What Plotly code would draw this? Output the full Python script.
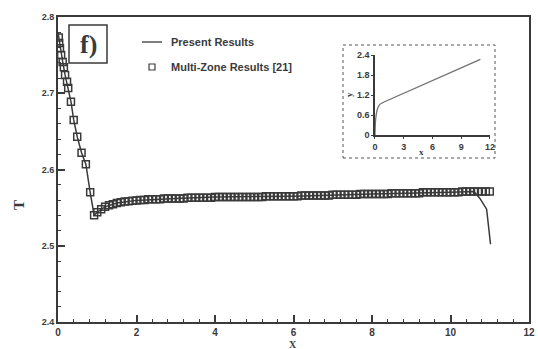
import plotly.graph_objects as go

# Multi-zone reference solution (open squares)
mz_x = [0.02, 0.03, 0.05, 0.08, 0.12, 0.15, 0.18, 0.23, 0.26, 0.33, 0.40, 0.49, 0.60, 0.71, 0.82, 0.92,
        1.0, 1.1, 1.2, 1.3, 1.4, 1.5, 1.6, 1.7, 1.8, 1.9, 2.0,
        2.1, 2.2, 2.3, 2.4, 2.5, 2.6, 2.7, 2.8, 2.9, 3.0,
        3.1, 3.2, 3.3, 3.4, 3.5, 3.6, 3.7, 3.8, 3.9, 4.0,
        4.1, 4.2, 4.3, 4.4, 4.5, 4.6, 4.7, 4.8, 4.9, 5.0,
        5.1, 5.2, 5.3, 5.4, 5.5, 5.6, 5.7, 5.8, 5.9, 6.0,
        6.1, 6.2, 6.3, 6.4, 6.5, 6.6, 6.7, 6.8, 6.9, 7.0,
        7.1, 7.2, 7.3, 7.4, 7.5, 7.6, 7.7, 7.8, 7.9, 8.0,
        8.1, 8.2, 8.3, 8.4, 8.5, 8.6, 8.7, 8.8, 8.9, 9.0,
        9.1, 9.2, 9.3, 9.4, 9.5, 9.6, 9.7, 9.8, 9.9, 10.0,
        10.1, 10.2, 10.3, 10.4, 10.5, 10.6, 10.7, 10.8, 10.9, 11.0]
mz_T = [2.773, 2.766, 2.759, 2.750, 2.741, 2.734, 2.724, 2.715, 2.707, 2.689, 2.665, 2.643, 2.622, 2.607, 2.570, 2.540,
        2.544, 2.548, 2.551, 2.553, 2.5545, 2.556, 2.557, 2.558, 2.5585, 2.559, 2.5595,
        2.560, 2.560, 2.561, 2.561, 2.561, 2.561, 2.562, 2.562, 2.562, 2.562,
        2.562, 2.562, 2.563, 2.563, 2.563, 2.563, 2.563, 2.563, 2.563, 2.564,
        2.564, 2.564, 2.564, 2.564, 2.564, 2.564, 2.564, 2.564, 2.564, 2.564,
        2.564, 2.564, 2.565, 2.565, 2.565, 2.565, 2.565, 2.565, 2.565, 2.565,
        2.565, 2.566, 2.566, 2.566, 2.566, 2.566, 2.566, 2.566, 2.566, 2.567,
        2.567, 2.567, 2.567, 2.567, 2.567, 2.567, 2.568, 2.568, 2.568, 2.568,
        2.568, 2.568, 2.568, 2.568, 2.569, 2.569, 2.569, 2.569, 2.569, 2.569,
        2.569, 2.569, 2.570, 2.570, 2.570, 2.570, 2.570, 2.570, 2.570, 2.570,
        2.570, 2.570, 2.571, 2.571, 2.571, 2.571, 2.571, 2.571, 2.571, 2.571]

# Present results (solid line), including the drop at the outlet
pr_x = [0.0, 0.02, 0.05, 0.08, 0.12, 0.18, 0.26, 0.33, 0.40, 0.49, 0.60, 0.71, 0.82, 0.92,
        1.0, 1.2, 1.5, 2.0, 3.0, 4.0, 6.0, 8.0, 10.0, 10.6, 10.75, 10.92, 11.02]
pr_T = [2.780, 2.773, 2.759, 2.750, 2.741, 2.724, 2.707, 2.689, 2.665, 2.643, 2.622, 2.607, 2.570, 2.540,
        2.544, 2.551, 2.556, 2.5595, 2.562, 2.564, 2.565, 2.568, 2.570, 2.571, 2.562, 2.548, 2.502]

# Inset: y versus x
in_x = [0.0, 0.05, 0.15, 0.3, 0.5, 0.8, 1.0, 11.0]
in_y = [0.0, 0.40, 0.65, 0.82, 0.92, 0.97, 1.0, 2.27]

main_ticks_x = [0, 2, 4, 6, 8, 10, 12]
main_ticks_y = [2.4, 2.5, 2.6, 2.7, 2.8]
inset_ticks_x = [0, 3, 6, 9, 12]
inset_ticks_y = [0, 0.6, 1.2, 1.8, 2.4]

INK = "#3a3a3a"
SANS = "Liberation Sans"
SERIF = "Liberation Serif"

# pixel -> paper helpers for the fixed plot area (58..529 x 17..322)
def px(x):
    return (x - 58) / 471


def py(y):
    return (322 - y) / 305


fig = go.Figure()

fig.add_trace(go.Scatter(
    x=mz_x, y=mz_T, mode="markers",
    marker=dict(symbol="square-open", size=7, color=INK, line=dict(width=1.5, color=INK)),
    showlegend=False, hoverinfo="skip"))
fig.add_trace(go.Scatter(
    x=pr_x, y=pr_T, mode="lines",
    line=dict(color=INK, width=1.5),
    showlegend=False, hoverinfo="skip"))
fig.add_trace(go.Scatter(
    x=in_x, y=in_y, mode="lines", xaxis="x2", yaxis="y2",
    line=dict(color="#707070", width=1.3, shape="spline", smoothing=0.6),
    showlegend=False, hoverinfo="skip"))

tickfont = dict(family=SANS, size=10, color=INK, weight="bold")
small_font = dict(family=SANS, size=9, color=INK, weight="bold")

fig.update_layout(
    width=538, height=349,
    margin=dict(l=58, r=9, t=17, b=27),
    paper_bgcolor="white", plot_bgcolor="white",
    xaxis=dict(range=[0, 12], tickvals=main_ticks_x, ticks="inside", ticklen=7, tickwidth=1.5,
               tickcolor=INK, showline=True, linecolor=INK, linewidth=2, mirror=True,
               showgrid=False, zeroline=False, tickfont=tickfont, automargin=False,
               minor=dict(dtick=0.4, ticks="inside", ticklen=3, tickwidth=1, tickcolor=INK, showgrid=False)),
    yaxis=dict(range=[2.4, 2.8], tickvals=main_ticks_y, ticktext=["2.4", "2.5", "2.6", "2.7", "2.8"],
               ticks="inside", ticklen=7, tickwidth=1.5,
               tickcolor=INK, showline=True, linecolor=INK, linewidth=2, mirror=True,
               showgrid=False, zeroline=False, tickfont=small_font, automargin=False,
               minor=dict(dtick=0.02, ticks="inside", ticklen=3, tickwidth=1, tickcolor=INK, showgrid=False)),
    xaxis2=dict(domain=[0.673, 0.917], anchor="y2", range=[0, 12], tickvals=inset_ticks_x,
                ticks="outside", ticklen=2, tickcolor=INK, showline=True, linecolor=INK, linewidth=1.5,
                showgrid=False, zeroline=False, tickfont=small_font, automargin=False),
    yaxis2=dict(domain=[0.613, 0.875], anchor="x2", range=[0, 2.4], tickvals=inset_ticks_y,
                ticktext=["0", "0.6", "1.2", "1.8", "2.4"],
                ticks="outside", ticklen=2, tickcolor=INK, showline=True, linecolor=INK, linewidth=1.5,
                showgrid=False, zeroline=False, tickfont=small_font, automargin=False),
)

# Axis titles
fig.add_annotation(xref="paper", yref="paper", x=px(293), y=py(344), xanchor="center", yanchor="middle",
                   text="X", showarrow=False, font=dict(family=SERIF, size=10, color=INK, weight="bold"))
fig.add_annotation(xref="paper", yref="paper", x=px(19), y=py(205), xanchor="center", yanchor="middle",
                   text="T", showarrow=False, textangle=-90,
                   font=dict(family=SERIF, size=15, color=INK, weight="bold"))
fig.add_annotation(xref="paper", yref="paper", x=px(421), y=py(152), xanchor="center", yanchor="middle",
                   text="x", showarrow=False, font=dict(family=SERIF, size=9, color=INK, weight="bold"))
fig.add_annotation(xref="paper", yref="paper", x=px(349), y=py(95), xanchor="center", yanchor="middle",
                   text="y", showarrow=False, textangle=-90,
                   font=dict(family=SERIF, size=9, color=INK, weight="bold"))

# Inset frame (dotted)
fig.add_shape(type="rect", xref="paper", yref="paper", x0=px(343), x1=px(495), y0=py(158), y1=py(45),
              line=dict(color="#555555", width=1, dash="dot"), fillcolor="rgba(0,0,0,0)")

# Panel label "f)" in a framed box
fig.add_shape(type="rect", xref="paper", yref="paper", x0=px(69), x1=px(107), y0=py(63), y1=py(25),
              line=dict(color=INK, width=1.5), fillcolor="rgba(0,0,0,0)")
fig.add_annotation(xref="paper", yref="paper", x=px(88), y=py(44), xanchor="center", yanchor="middle",
                   text="<b>f)</b>", showarrow=False,
                   font=dict(family=SERIF, size=26, color=INK))

# Legend
fig.add_shape(type="line", xref="paper", yref="paper", x0=px(142), x1=px(162),
              y0=py(42), y1=py(42), line=dict(color=INK, width=1.3))
fig.add_annotation(xref="paper", yref="paper", x=px(169), y=py(42),
                   xanchor="left", yanchor="middle", showarrow=False,
                   text="<b>Present Results</b>", font=dict(family=SANS, size=11, color=INK))
fig.add_shape(type="rect", xref="paper", yref="paper",
              x0=px(149), x1=px(155), y0=py(70), y1=py(64),
              line=dict(color=INK, width=1.2), fillcolor="white")
fig.add_annotation(xref="paper", yref="paper", x=px(169), y=py(67),
                   xanchor="left", yanchor="middle", showarrow=False,
                   text="<b>Multi-Zone Results [21]</b>", font=dict(family=SANS, size=11, color=INK))

fig.write_html("out.html")
